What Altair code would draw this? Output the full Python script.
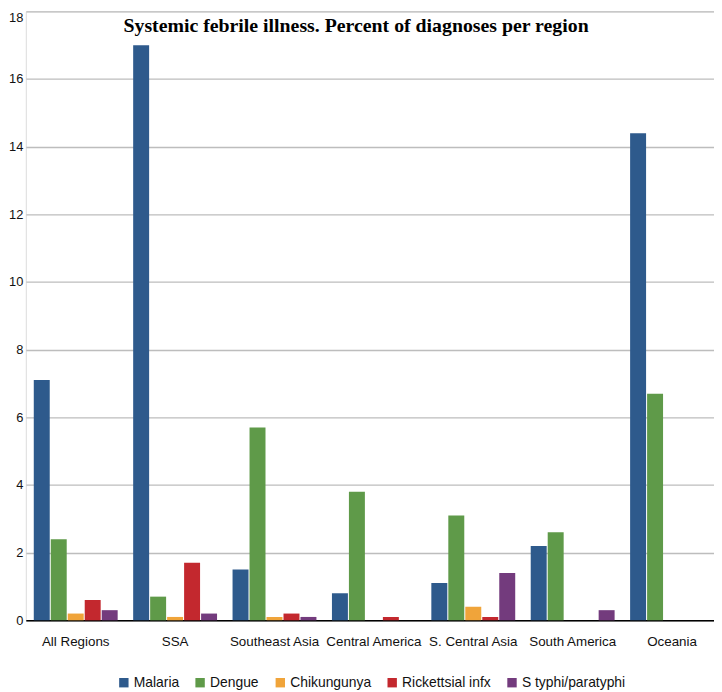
import altair as alt
import pandas as pd

regions = ["All Regions", "SSA", "Southeast Asia", "Central America",
           "S. Central Asia", "South America", "Oceania"]
diseases = ["Malaria", "Dengue", "Chikungunya", "Rickettsial infx", "S typhi/paratyphi"]
malaria = [7.1, 17.0, 1.5, 0.8, 1.1, 2.2, 14.4]
dengue = [2.4, 0.7, 5.7, 3.8, 3.1, 2.6, 6.7]
chikungunya = [0.2, 0.1, 0.1, 0.0, 0.4, 0.0, 0.0]
rickettsial = [0.6, 1.7, 0.2, 0.1, 0.1, 0.0, 0.0]
styphi = [0.3, 0.2, 0.1, 0.0, 1.4, 0.3, 0.0]
colors = ["#2e5a8c", "#5f9a49", "#f0a43a", "#c3282e", "#733b7d"]
title_text = "Systemic febrile illness. Percent of diagnoses per region"

series = [malaria, dengue, chikungunya, rickettsial, styphi]
rows = []
for d, vals in zip(diseases, series):
    for r, v in zip(regions, vals):
        rows.append({"Region": r, "Disease": d, "Value": v})
df = pd.DataFrame(rows)

W, H = 695, 615

bars = alt.Chart(df).mark_bar().encode(
    x=alt.X("Region:N", sort=regions,
            scale=alt.Scale(paddingInner=0.156, paddingOuter=0.04, align=1),
            axis=alt.Axis(title=None, labelAngle=0, ticks=False, domain=True,
                          domainColor="#000000", domainWidth=1.5,
                          labelFont="Liberation Sans", labelFontSize=13.5,
                          labelColor="#111111", labelPadding=14, grid=False)),
    xOffset=alt.XOffset("Disease:N", sort=diseases,
                        scale=alt.Scale(paddingInner=0.06, paddingOuter=0)),
    y=alt.Y("Value:Q",
            scale=alt.Scale(domain=[0, 18], nice=False),
            axis=alt.Axis(title=None, values=list(range(0, 19, 2)), ticks=False,
                          domain=False, grid=True, gridColor="#bdbdbd",
                          gridWidth=1.3, labelFont="Liberation Sans",
                          labelFontSize=13, labelColor="#111111",
                          labelPadding=3,
                          labelBaseline=alt.condition("datum.value == 18",
                                                      alt.value("top"),
                                                      alt.value("middle")))),
    color=alt.Color("Disease:N", sort=diseases,
                    scale=alt.Scale(domain=diseases, range=colors),
                    legend=alt.Legend(title=None, orient="none",
                                      legendX=92, legendY=671,
                                      direction="horizontal",
                                      symbolType="square", symbolSize=90,
                                      symbolStrokeWidth=0,
                                      labelFont="Liberation Sans",
                                      labelFontSize=14, labelColor="#111111",
                                      columnPadding=14, labelOffset=3)),
)

title_df = pd.DataFrame({"t": [title_text]})
title = alt.Chart(title_df).mark_text(
    font="Liberation Serif", fontSize=20, fontWeight="bold",
    color="#000000", align="center", baseline="middle"
).encode(text="t:N", x=alt.value(W / 2 - 14), y=alt.value(15))

chart = alt.layer(bars, title).properties(
    width=W, height=H, padding={"left": 0, "top": 0, "right": 0, "bottom": 0}
).configure_view(stroke=None).configure(background="white")

chart.save("out.html", embed_options={"renderer": "svg", "actions": False})
